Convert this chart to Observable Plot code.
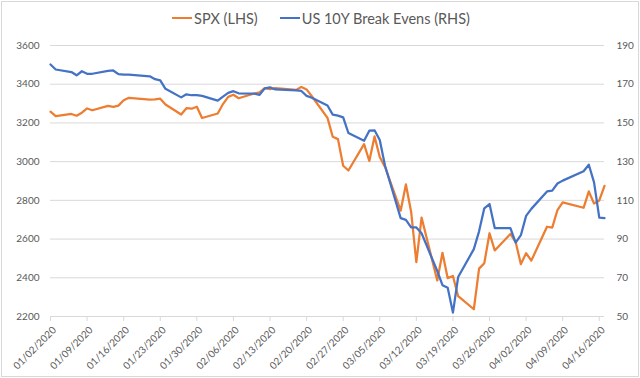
<!DOCTYPE html>
<html>
<head>
<meta charset="utf-8">
<script src="https://cdn.jsdelivr.net/npm/d3@7"></script>
<script src="https://cdn.jsdelivr.net/npm/@observablehq/plot@0.6"></script>
<style>
  html, body { margin: 0; padding: 0; background: #fff; }
  #wrap { position: relative; width: 640px; height: 378px; overflow: hidden; font-family: Lato, "Open Sans", sans-serif; }
  #frame { position: absolute; left: 1px; top: 1px; width: 638px; height: 376px; box-sizing: border-box; border: 1px solid #d9d9d9; pointer-events: none; }
  #legend { height: 32px; display: flex; justify-content: center; align-items: center; gap: 22px; font-size: 14.5px; color: #595959; padding-top: 4px; box-sizing: border-box; padding-left: 2px; }
  .item { display: flex; align-items: center; gap: 2px; }
  .sw { display: inline-block; width: 20px; height: 0; border-top: 2.5px solid; }
  svg { display: block; }
</style>
</head>
<body>
<div id="wrap">
  <div id="legend"></div>
  <div id="chart"></div>
  <div id="frame"></div>
</div>
<script>
// ---- data ----
const dates = [
  "2020-01-02","2020-01-03","2020-01-06","2020-01-07","2020-01-08","2020-01-09","2020-01-10",
  "2020-01-13","2020-01-14","2020-01-15","2020-01-16","2020-01-17","2020-01-21","2020-01-22",
  "2020-01-23","2020-01-24","2020-01-27","2020-01-28","2020-01-29","2020-01-30","2020-01-31",
  "2020-02-03","2020-02-04","2020-02-05","2020-02-06","2020-02-07","2020-02-10","2020-02-11",
  "2020-02-12","2020-02-13","2020-02-14","2020-02-18","2020-02-19","2020-02-20","2020-02-21",
  "2020-02-24","2020-02-25","2020-02-26","2020-02-27","2020-02-28",
  "2020-03-02","2020-03-03","2020-03-04","2020-03-05","2020-03-06","2020-03-09","2020-03-10",
  "2020-03-11","2020-03-12","2020-03-13","2020-03-16","2020-03-17","2020-03-18","2020-03-19",
  "2020-03-20","2020-03-23","2020-03-24","2020-03-25","2020-03-26","2020-03-27","2020-03-30",
  "2020-03-31","2020-04-01","2020-04-02","2020-04-03","2020-04-06","2020-04-07","2020-04-08",
  "2020-04-09","2020-04-13","2020-04-14","2020-04-15","2020-04-16","2020-04-17"
];
const spx = [
  3257.85,3234.85,3246.28,3237.18,3253.05,3274.70,3265.35,
  3288.13,3283.15,3289.29,3316.81,3329.62,3320.79,3321.75,
  3325.54,3295.47,3243.63,3276.24,3273.40,3283.66,3225.52,
  3248.92,3297.59,3334.69,3345.78,3327.71,3352.09,3357.75,
  3379.45,3373.94,3380.16,3370.29,3386.15,3373.23,3337.75,
  3225.89,3128.21,3116.39,2978.76,2954.22,
  3090.23,3003.37,3130.12,3023.94,2972.37,2746.56,2882.23,
  2741.38,2480.64,2711.02,2386.13,2529.19,2398.10,2409.39,
  2304.92,2237.40,2447.33,2475.56,2630.07,2541.47,2626.65,
  2584.59,2470.50,2526.90,2488.65,2663.68,2659.41,2749.98,
  2789.82,2761.63,2846.06,2783.36,2799.55,2874.56
];
const breakEvens = [
  180.2,177.6,176.3,174.6,176.7,175.4,175.4,
  176.9,177.1,175.2,175.0,174.9,174.1,172.6,
  172.0,167.6,163.2,164.8,164.3,164.4,164.0,
  161.5,163.6,165.5,166.4,165.3,165.1,164.5,
  167.9,168.4,167.3,166.8,166.5,164.0,163.0,
  159.0,154.3,153.8,152.9,144.8,
  140.8,146.0,146.2,141.2,128.0,100.8,99.9,
  96.0,96.0,93.0,73.5,66.2,64.9,52.0,
  70.4,84.8,94.0,105.9,108.1,95.7,95.7,
  88.2,92.0,102.0,105.6,114.6,115.0,118.7,
  120.2,125.0,128.4,119.3,101.1,100.8
];
const xTickLabels = ["01/02/2020","01/09/2020","01/16/2020","01/23/2020","01/30/2020","02/06/2020",
  "02/13/2020","02/20/2020","02/27/2020","03/05/2020","03/12/2020","03/19/2020","03/26/2020",
  "04/02/2020","04/09/2020","04/16/2020"];
const xDomain = ["2020-01-02","2020-04-17"];
const leftTicks = [2200,2400,2600,2800,3000,3200,3400,3600];
const rightTicks = [50,70,90,110,130,150,170,190];
const seriesNames = ["SPX (LHS)","US 10Y Break Evens (RHS)"];
const colors = ["#ED7D31","#4472C4"];

// ---- derived ----
const parse = d3.utcParse("%Y-%m-%d");
const parseTick = d3.utcParse("%m/%d/%Y");
const tickDates = xTickLabels.map(parseTick);
const lMin = leftTicks[0], lMax = leftTicks[leftTicks.length-1];
const rMin = rightTicks[0], rMax = rightTicks[rightTicks.length-1];
const toLeft = v => lMin + (v - rMin) * (lMax - lMin) / (rMax - rMin);
const toRight = v => rMin + (v - lMin) * (rMax - rMin) / (lMax - lMin);
const rows = dates.map((d, i) => ({date: parse(d), spx: spx[i], be: toLeft(breakEvens[i])}));

// legend
const legend = document.getElementById("legend");
seriesNames.forEach((n, i) => {
  const it = document.createElement("span"); it.className = "item";
  const sw = document.createElement("span"); sw.className = "sw"; sw.style.borderTopColor = colors[i];
  const t = document.createElement("span"); t.textContent = n;
  it.appendChild(sw); it.appendChild(t); legend.appendChild(it);
});

const chart = Plot.plot({
  width: 640,
  height: 346,
  marginTop: 13,
  marginBottom: 62,
  marginLeft: 50,
  marginRight: 36,
  style: {fontFamily: "Lato, 'Open Sans', sans-serif", fontSize: "10px", color: "#595959", background: "transparent", overflow: "visible"},
  x: {type: "utc", domain: xDomain.map(parse)},
  y: {domain: [lMin, lMax]},
  marks: [
    Plot.gridY(leftTicks, {stroke: "#d9d9d9", strokeOpacity: 1, strokeWidth: 1}),
    Plot.ruleY([lMin], {stroke: "#d9d9d9", strokeWidth: 1}),
    Plot.axisY(leftTicks, {anchor: "left", tickSize: 0, tickPadding: 11, tickFormat: d => String(d), color: "#595959"}),
    Plot.axisY(leftTicks, {anchor: "right", tickSize: 0, tickPadding: 12, tickFormat: d => String(Math.round(toRight(d))), color: "#595959"}),
    Plot.axisX(tickDates, {tickSize: 5, color: "#d9d9d9", tickFormat: () => ""}),
    Plot.axisX(tickDates, {tickSize: 0, tickPadding: 12, dx: 4, tickRotate: -45, tickFormat: (d, i) => xTickLabels[i], color: "#595959"}),
    Plot.lineY(rows, {x: "date", y: "spx", stroke: colors[0], strokeWidth: 2.25}),
    Plot.lineY(rows, {x: "date", y: "be", stroke: colors[1], strokeWidth: 2.25})
  ]
});
document.getElementById("chart").appendChild(chart);
</script>
</body>
</html>
